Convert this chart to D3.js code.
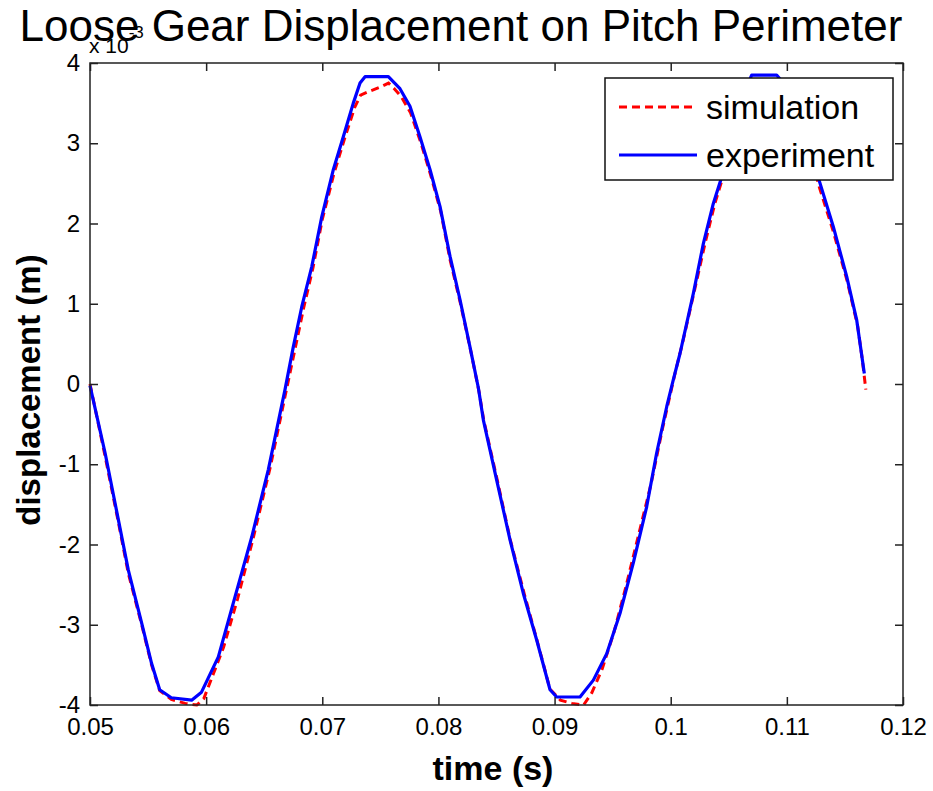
<!DOCTYPE html>
<html>
<head>
<meta charset="utf-8">
<script src="https://cdn.jsdelivr.net/npm/d3@7"></script>
<style>
  body { margin: 0; background: #fff; }
  text { font-family: "Liberation Sans", Arial, sans-serif; fill: #000; }
</style>
</head>
<body>
<div id="chart"></div>
<script>
// time (s) and displacement (x 10^-3 m)
var expTime = [0.05, 0.0513, 0.05244, 0.0533, 0.05445, 0.0553, 0.056, 0.057, 0.05875, 0.0596,
  0.06105, 0.06249, 0.06392, 0.06535, 0.06679, 0.0675, 0.06823, 0.06909, 0.06995, 0.07095,
  0.07181, 0.07267, 0.07325, 0.07368, 0.07569, 0.07669, 0.07755, 0.07841, 0.07928, 0.08014,
  0.081, 0.08186, 0.08272, 0.08344, 0.08387, 0.08502, 0.08616, 0.08731, 0.08846, 0.08961,
  0.09018, 0.09219, 0.09334, 0.09449, 0.09563, 0.09678, 0.09793, 0.09879, 0.09966, 0.10022,
  0.1008, 0.10195, 0.10281, 0.10367, 0.10439, 0.1055, 0.1063, 0.10697, 0.10912, 0.1100,
  0.1115, 0.11286, 0.114, 0.11515, 0.11601, 0.11667];
var expDisp = [-0.02, -0.86, -1.69, -2.32, -2.98, -3.48, -3.81, -3.91, -3.94, -3.84,
  -3.40, -2.65, -1.91, -1.07, -0.07, 0.46, 0.96, 1.46, 2.08, 2.67,
  3.08, 3.50, 3.75, 3.83, 3.83, 3.68, 3.46, 3.08, 2.67, 2.21,
  1.59, 1.05, 0.46, -0.05, -0.45, -1.20, -1.94, -2.61, -3.19, -3.81,
  -3.90, -3.90, -3.69, -3.36, -2.86, -2.23, -1.53, -0.86, -0.28, 0.05,
  0.38, 1.13, 1.75, 2.25, 2.58, 3.25, 3.62, 3.85, 3.85, 3.70,
  3.15, 2.50, 1.96, 1.34, 0.80, 0.13];

var simTime = [0.05, 0.0513, 0.05244, 0.0533, 0.05445, 0.0553, 0.056, 0.057, 0.0582, 0.0592,
  0.0598, 0.0606, 0.0615, 0.0627, 0.064, 0.0655, 0.0668, 0.0676, 0.0684, 0.0692,
  0.07, 0.071, 0.0719, 0.0728, 0.0733, 0.0741, 0.075, 0.0757, 0.0762, 0.0768,
  0.0776, 0.0785, 0.0793, 0.0802, 0.081, 0.0819, 0.0828, 0.0835, 0.0839, 0.0851,
  0.0862, 0.0874, 0.0885, 0.0896, 0.0905, 0.0915, 0.0925, 0.0932, 0.0941, 0.0951,
  0.0961, 0.0972, 0.0983, 0.0993, 0.1004, 0.101, 0.1021, 0.103, 0.1038, 0.1045,
  0.1055, 0.1063, 0.1072, 0.108, 0.109, 0.1102, 0.1116, 0.1128, 0.114, 0.1152,
  0.1161, 0.1165, 0.1168];
var simDisp = [0.0, -0.9, -1.72, -2.36, -3.0, -3.5, -3.82, -3.93, -3.98, -4.0,
  -3.92, -3.62, -3.28, -2.68, -1.95, -1.05, -0.15, 0.4, 0.95, 1.45,
  2.05, 2.62, 3.05, 3.45, 3.6, 3.65, 3.7, 3.75, 3.68, 3.58,
  3.38, 3.0, 2.62, 2.15, 1.55, 1.0, 0.4, -0.1, -0.45, -1.22,
  -1.95, -2.62, -3.2, -3.8, -3.94, -3.98, -4.0, -3.85, -3.55, -3.1,
  -2.55, -1.9, -1.25, -0.55, 0.15, 0.5, 1.2, 1.78, 2.25, 2.58,
  3.2, 3.55, 3.72, 3.78, 3.72, 3.55, 3.1, 2.45, 1.9, 1.28,
  0.72, 0.3, -0.07];

var xTicks = [0.05, 0.06, 0.07, 0.08, 0.09, 0.1, 0.11, 0.12];
var yTicks = [-4, -3, -2, -1, 0, 1, 2, 3, 4];
var seriesNames = ["simulation", "experiment"];

var w = 933, h = 791;
var plotLeft = 90, plotRight = 903, plotTop = 63, plotBottom = 705;

var svg = d3.select("#chart").append("svg")
            .attr("width", w)
            .attr("height", h);

var x = d3.scaleLinear().domain([0.05, 0.12]).range([plotLeft, plotRight]);
var y = d3.scaleLinear().domain([-4, 4]).range([plotBottom, plotTop]);

var line = d3.line()
             .x(function(d) { return x(d[0]); })
             .y(function(d) { return y(d[1]); });

var simData = d3.zip(simTime, simDisp);
var expData = d3.zip(expTime, expDisp);

var plot = svg.append("g");

plot.append("path")
    .datum(simData)
    .attr("d", line)
    .attr("fill", "none")
    .attr("stroke", "#ff0000")
    .attr("stroke-width", 3)
    .attr("stroke-dasharray", "8,5");

plot.append("path")
    .datum(expData)
    .attr("d", line)
    .attr("fill", "none")
    .attr("stroke", "#0000ff")
    .attr("stroke-width", 3.2)
    .attr("stroke-linejoin", "round");

// axes: ticks point inwards, mirrored on top and right
var fmtX = function(d) { return d === 0.1 ? "0.1" : d3.format(".2f")(d); };
var fmtY = function(d) { return String(d); }; // plain hyphen minus like the original

svg.append("g")
   .attr("transform", "translate(0," + plotBottom + ")")
   .call(d3.axisBottom(x).tickValues(xTicks).tickSize(-8).tickPadding(13).tickFormat(fmtX))
   .call(function(g) {
       g.select(".domain").remove();
       g.selectAll("text").attr("font-size", 24).attr("font-family", "Liberation Sans, Arial");
   });

svg.append("g")
   .attr("transform", "translate(0," + plotTop + ")")
   .call(d3.axisTop(x).tickValues(xTicks).tickSize(-8).tickFormat(""))
   .call(function(g) { g.select(".domain").remove(); });

svg.append("g")
   .attr("transform", "translate(" + plotLeft + ",0)")
   .call(d3.axisLeft(y).tickValues(yTicks).tickSize(-8).tickPadding(10).tickFormat(fmtY))
   .call(function(g) {
       g.select(".domain").remove();
       g.selectAll("text").attr("font-size", 24).attr("font-family", "Liberation Sans, Arial");
   });

svg.append("g")
   .attr("transform", "translate(" + plotRight + ",0)")
   .call(d3.axisRight(y).tickValues(yTicks).tickSize(-8).tickFormat(""))
   .call(function(g) { g.select(".domain").remove(); });

svg.selectAll(".tick line").attr("stroke", "#222").attr("stroke-width", 1.5);

svg.append("rect")
   .attr("x", plotLeft)
   .attr("y", plotTop)
   .attr("width", plotRight - plotLeft)
   .attr("height", plotBottom - plotTop)
   .attr("fill", "none")
   .attr("stroke", "#222")
   .attr("stroke-width", 1.5);

// exponent label
var expo = svg.append("text")
   .attr("x", 89)
   .attr("y", 53)
   .attr("font-size", 21);
expo.append("tspan").text("x 10");
expo.append("tspan").attr("dy", -15).attr("font-size", 17).text("-3");

// title
svg.append("text")
   .attr("x", 461)
   .attr("y", 41)
   .attr("text-anchor", "middle")
   .attr("font-size", 44)
   .text("Loose Gear Displacement on Pitch Perimeter");

svg.append("text")
   .attr("x", 493)
   .attr("y", 780)
   .attr("text-anchor", "middle")
   .attr("font-size", 34)
   .attr("font-weight", "bold")
   .text("time (s)");

svg.append("text")
   .attr("transform", "translate(40,390) rotate(-90)")
   .attr("text-anchor", "middle")
   .attr("font-size", 33)
   .attr("font-weight", "bold")
   .text("displacement (m)");

// legend
var legend = svg.append("g").attr("transform", "translate(605,78)");
legend.append("rect")
      .attr("width", 288)
      .attr("height", 102)
      .attr("fill", "#fff")
      .attr("stroke", "#111")
      .attr("stroke-width", 1.5);

var legendColors = ["#ff0000", "#0000ff"];
var legendItems = legend.selectAll("g.item")
      .data(seriesNames)
      .enter().append("g")
      .attr("class", "item")
      .attr("transform", function(d, i) { return "translate(0," + (29 + i * 48) + ")"; });

legendItems.append("line")
      .attr("x1", 14).attr("x2", 92)
      .attr("stroke", function(d, i) { return legendColors[i]; })
      .attr("stroke-width", 3)
      .attr("stroke-dasharray", function(d, i) { return i === 0 ? "8,5" : null; });

legendItems.append("text")
      .attr("x", 101)
      .attr("dy", "0.35em")
      .attr("font-size", 34)
      .text(function(d) { return d; });
</script>
</body>
</html>
